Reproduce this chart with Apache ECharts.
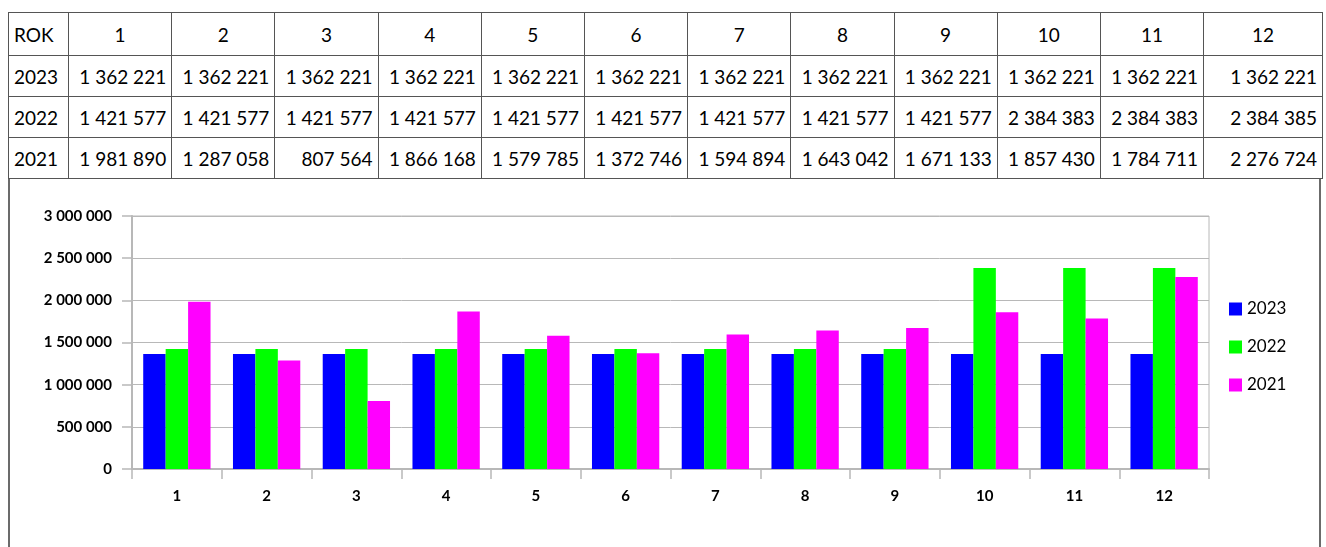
<!DOCTYPE html>
<html>
<head>
<meta charset="utf-8">
<script src="https://cdn.jsdelivr.net/npm/echarts@6/dist/echarts.min.js"></script>
<style>
html,body{margin:0;padding:0;background:#fff;width:1326px;height:547px;overflow:hidden;}
#frame{position:absolute;left:8px;top:12px;width:1313px;height:600px;border-left:2px solid #6b6b6b;border-right:2px solid #6b6b6b;box-sizing:border-box;}
#tbl{position:absolute;left:8px;top:12px;border-collapse:collapse;font-family:Lato,"Open Sans",sans-serif;font-size:19px;color:#000;table-layout:fixed;z-index:2;background:#fff;}
#tbl td{border:1.5px solid #555;padding:0 5px;height:40px;white-space:nowrap;text-align:right;}
#tbl tr:first-child td{text-align:center;height:42px;}
#tbl tr:first-child td:first-child{text-align:left;}
#tbl td:first-child{text-align:left;padding-left:5px;}
#chart{position:absolute;left:0;top:0;width:1326px;height:547px;z-index:1;}
</style>
</head>
<body>
<div id="chart"></div>
<div id="frame"></div>
<table id="tbl"></table>
<script>
const months = ['1','2','3','4','5','6','7','8','9','10','11','12'];
const years = ['2023','2022','2021'];
const v2023 = [1362221,1362221,1362221,1362221,1362221,1362221,1362221,1362221,1362221,1362221,1362221,1362221];
const v2022 = [1421577,1421577,1421577,1421577,1421577,1421577,1421577,1421577,1421577,2384383,2384383,2384385];
const v2021 = [1981890,1287058,807564,1866168,1579785,1372746,1594894,1643042,1671133,1857430,1784711,2276724];
const colors = ['#0000ff','#00ff00','#ff00ff'];
const seriesValues = [v2023, v2022, v2021];

function fmt(n){ return String(n).replace(/\B(?=(\d{3})+(?!\d))/g,' '); }

// table
const tbl = document.getElementById('tbl');
const widths = [60,103.2,103.2,103.2,103.2,103.2,103.2,103.2,103.2,103.2,103.2,103.2,119];
let cg = '<colgroup>' + widths.map(w=>'<col style="width:'+w+'px">').join('') + '</colgroup>';
let html = cg + '<tr><td>ROK</td>' + months.map(m=>'<td>'+m+'</td>').join('') + '</tr>';
years.forEach((y,i)=>{
  html += '<tr><td>'+y+'</td>' + seriesValues[i].map(v=>'<td>'+fmt(v)+'</td>').join('') + '</tr>';
});
tbl.innerHTML = html;
tbl.style.width = widths.reduce((a,b)=>a+b,0)+'px';

const chart = echarts.init(document.getElementById('chart'), null, {renderer:'canvas'});
chart.setOption({
  animation:false,
  backgroundColor:'transparent',
  grid:{left:132,right:117,top:216,bottom:78,show:true,borderColor:'#b8b8b8',borderWidth:1},
  legend:{
    orient:'vertical', left:1224, top:295,
    itemWidth:13, itemHeight:13, itemGap:20,
    icon:'rect',
    textStyle:{fontFamily:'Lato',fontSize:17,color:'#000',lineHeight:18,padding:[0,0,0,0]},
    data:years
  },
  xAxis:{
    type:'category', data:months,
    axisLine:{lineStyle:{color:'#b8b8b8',width:2}},
    axisTick:{show:true,length:10,lineStyle:{color:'#b8b8b8',width:1.5}},
    axisLabel:{fontFamily:'Lato',fontWeight:'bold',fontSize:15,color:'#000',margin:20}
  },
  yAxis:{
    type:'value', min:0, max:3000000, interval:500000,
    axisLine:{show:true,lineStyle:{color:'#b8b8b8',width:2}},
    axisTick:{show:true,length:10,lineStyle:{color:'#b8b8b8',width:1.5}},
    splitLine:{lineStyle:{color:'#b8b8b8',width:1}},
    axisLabel:{fontFamily:'Lato',fontWeight:'bold',fontSize:15,color:'#000',margin:20,formatter:v=>fmt(v)}
  },
  series: years.map((y,i)=>({
    name:y, type:'bar', data:seriesValues[i],
    itemStyle:{color:colors[i]},
    barWidth:'25%', barGap:'0%', barCategoryGap:'25%'
  }))
});
</script>
</body>
</html>
